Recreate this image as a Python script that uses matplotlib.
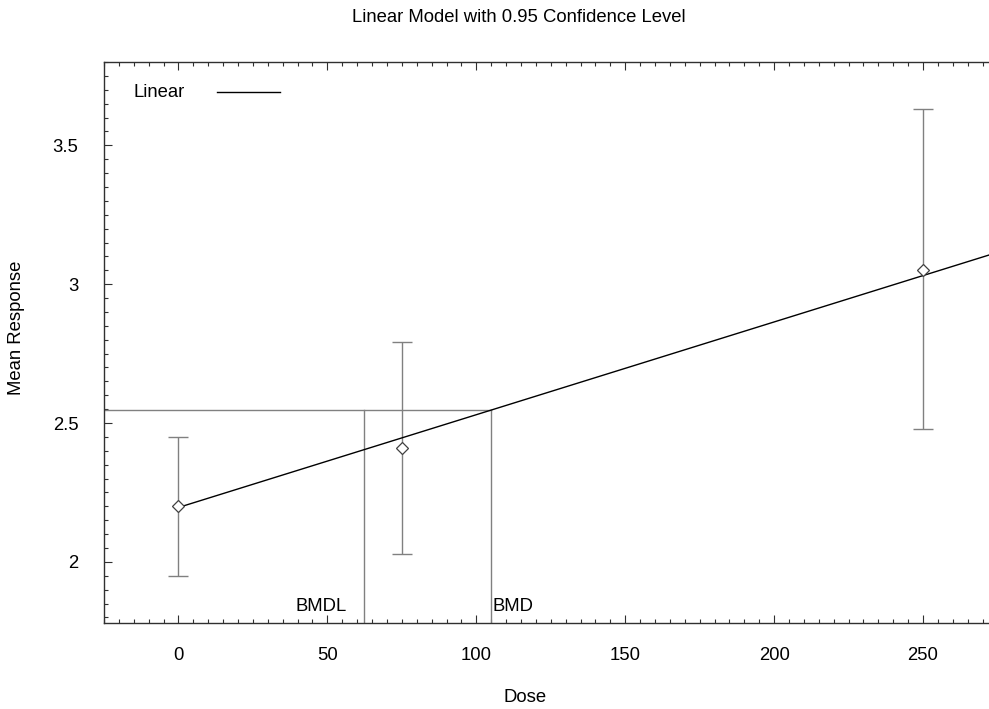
import matplotlib
matplotlib.use("Agg")
import matplotlib.pyplot as plt
from matplotlib.ticker import MultipleLocator
import numpy as np

# Data
doses = [0, 75, 250]
means = [2.2, 2.41, 3.05]
lower = [1.95, 2.03, 2.48]
upper = [2.45, 2.79, 3.63]
intercept = 2.196
slope = 0.00334
bmd = 105.0
bmdl = 62.2
title = "Linear Model with 0.95 Confidence Level"

plt.rcParams['font.family'] = ['Liberation Sans', 'DejaVu Sans']
FS = 13.3

W, H = 989, 709
fig = plt.figure(figsize=(W / 100, H / 100), dpi=100)
xlim = (-25, 275)
ylim = (1.78, 3.8)
left_px, right_px, top_px, bot_px = 104, 997.5, 62, 623
ax = fig.add_axes([left_px / W, 1 - bot_px / H, (right_px - left_px) / W, (bot_px - top_px) / H])
ax.set_xlim(*xlim)
ax.set_ylim(*ylim)

grey = '#808080'
# error bars
d = np.array(doses); m = np.array(means)
yerr = [m - np.array(lower), np.array(upper) - m]
ax.errorbar(d, m, yerr=yerr, fmt='none', ecolor=grey, elinewidth=1, capsize=7, capthick=1, zorder=2)
ax.plot(d, m, linestyle='none', marker='D', markersize=6, markerfacecolor='white',
        markeredgecolor='#404040', markeredgewidth=0.9, zorder=4)

# linear model
xs = np.array([0, xlim[1]])
ax.plot(xs, intercept + slope * xs, color='black', lw=1, zorder=3, label='Linear')

# BMD lines
bmr = intercept + slope * bmd
ax.plot([xlim[0], bmd], [bmr, bmr], color=grey, lw=1, zorder=2)
ax.plot([bmdl, bmdl], [ylim[0], bmr], color=grey, lw=1, zorder=2)
ax.plot([bmd, bmd], [ylim[0], bmr], color=grey, lw=1, zorder=2)
ax.annotate('BMDL', xy=(bmdl, ylim[0]), xytext=(-12, 6), textcoords='offset points',
            ha='right', va='bottom', fontsize=FS)
ax.annotate('BMD', xy=(bmd, ylim[0]), xytext=(1, 6), textcoords='offset points',
            ha='left', va='bottom', fontsize=FS)

# legend (gnuplot style)
ax.text(0.033, 0.945, 'Linear', transform=ax.transAxes, fontsize=FS, va='center', ha='left')
ax.plot([0.127, 0.197], [0.947, 0.947], transform=ax.transAxes, color='black', lw=1)

ax.xaxis.set_major_locator(MultipleLocator(50))
ax.xaxis.set_minor_locator(MultipleLocator(5))
ax.yaxis.set_major_locator(MultipleLocator(0.5))
ax.yaxis.set_minor_locator(MultipleLocator(0.05))
ax.tick_params(which='both', direction='in', top=True, right=True, colors='#303030',
               labelcolor='black', labelsize=FS, width=0.8)
ax.tick_params(which='major', length=6)
ax.tick_params(which='minor', length=3)
ax.tick_params(axis='x', which='major', pad=17.5)
ax.tick_params(axis='y', which='major', pad=18.5)
ax.set_yticklabels([f"{v:g}" for v in ax.get_yticks()])
ax.set_xticklabels([f"{v:g}" for v in ax.get_xticks()])
for s in ax.spines.values():
    s.set_color('#303030'); s.set_linewidth(1)

fig.text(519 / W, 1 - 18 / H, title, ha='center', va='center', fontsize=FS)
fig.text(525 / W, 1 - 697 / H, 'Dose', ha='center', va='center', fontsize=FS)
fig.text(17 / W, 1 - 328 / H, 'Mean Response', ha='center', va='center', rotation=90, fontsize=FS)

fig.savefig('out.png', dpi=100)
